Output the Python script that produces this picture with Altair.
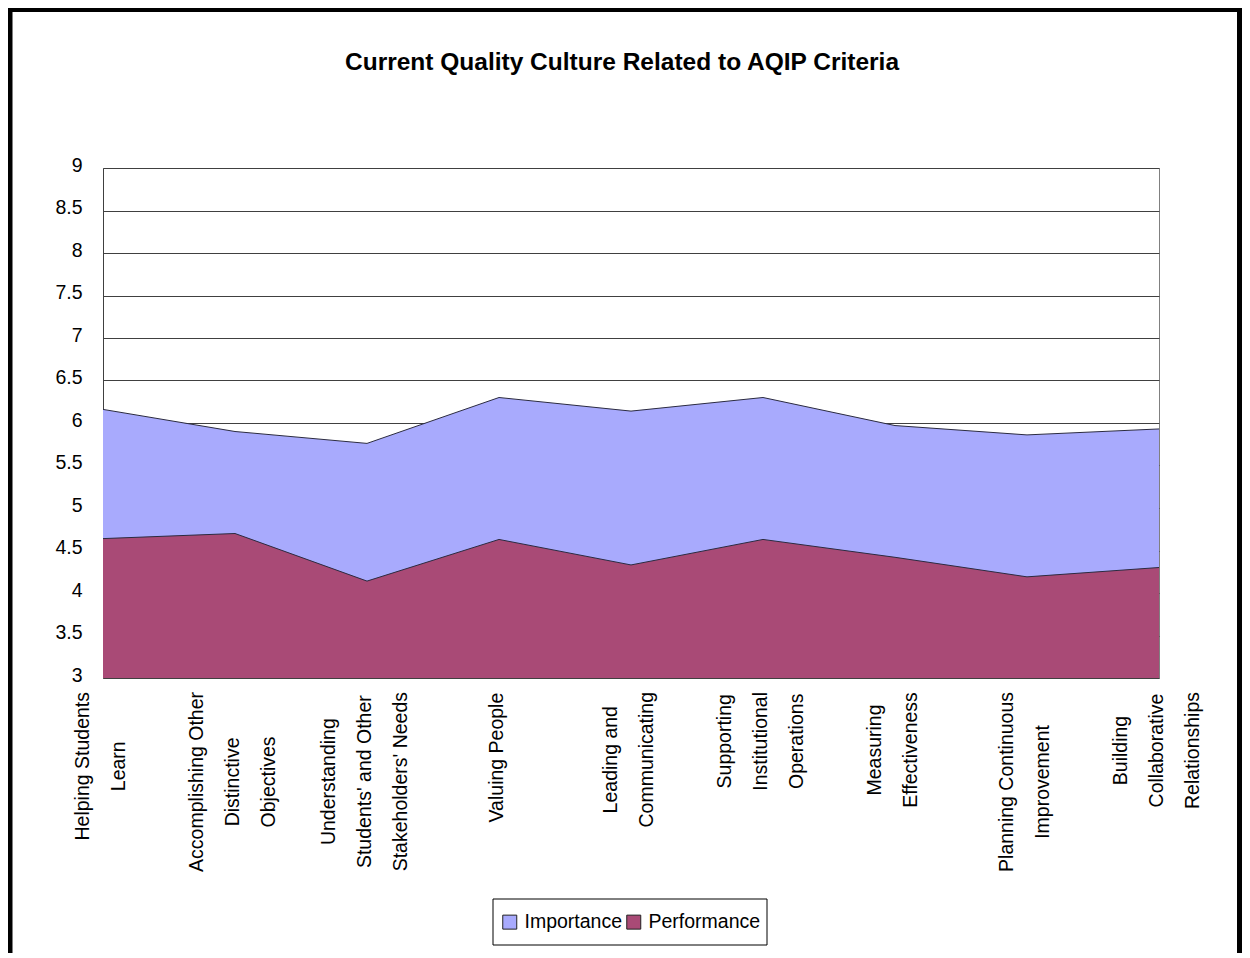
import altair as alt
import pandas as pd

# ---- data ----
categories = [
    "Helping Students|Learn",
    "Accomplishing Other|Distinctive|Objectives",
    "Understanding|Students' and Other|Stakeholders' Needs",
    "Valuing People",
    "Leading and|Communicating",
    "Supporting|Institutional|Operations",
    "Measuring|Effectiveness",
    "Planning Continuous|Improvement",
    "Building|Collaborative|Relationships",
]
importance = [6.16, 5.90, 5.76, 6.30, 6.14, 6.30, 5.97, 5.86, 5.93]
performance = [4.64, 4.70, 4.14, 4.63, 4.33, 4.63, 4.42, 4.19, 4.30]
series_names = ["Importance", "Performance"]
y_ticks = [3, 3.5, 4, 4.5, 5, 5.5, 6, 6.5, 7, 7.5, 8, 8.5, 9]
title_text = "Current Quality Culture Related to AQIP Criteria"

# ---- styling ----
FONT = "Liberation Sans"
FS = 19.5
BLUE = "#A8AAFD"
MAROON = "#A94A76"
W, H = 1056, 510
PAD = {"left": 95, "top": 160, "right": 83, "bottom": 275}

rows = []
for c, i, p in zip(categories, importance, performance):
    rows.append({"category": c, "series": "Importance", "value": i})
    rows.append({"category": c, "series": "Performance", "value": p})
df = pd.DataFrame(rows)

xenc = alt.X("category:N", scale=alt.Scale(type="point", padding=0, domain=categories), axis=None)
yscale = alt.Scale(domain=[3, 9], zero=False, nice=False)
yenc = alt.Y("value:Q", scale=yscale, title=None,
             axis=alt.Axis(values=y_ticks, format="~g"))
color = alt.Color(
    "series:N",
    scale=alt.Scale(domain=series_names, range=[BLUE, MAROON]),
    legend=alt.Legend(
        orient="none", legendX=397, legendY=744, direction="horizontal", title=None,
        padding=0, symbolType="square",
        symbolSize=196, symbolStrokeColor="#222222", symbolStrokeWidth=1, symbolOpacity=1,
        labelFont=FONT, labelFontSize=FS, labelColor="black", labelOffset=5, columnPadding=1,
    ),
)

base = alt.Chart(df)
imp_area = base.transform_filter(alt.datum.series == "Importance").mark_area(opacity=1).encode(
    x=xenc, y=yenc, y2=alt.datum(3), color=color)
perf_area = base.transform_filter(alt.datum.series == "Performance").mark_area(opacity=1).encode(
    x=xenc, y=yenc, y2=alt.datum(3), color=color)
lines = base.mark_line(color="#2b2b40", strokeWidth=1).encode(x=xenc, y=yenc, detail="series:N")

# Arial / Liberation Sans advance widths (per 1000 em) to centre multi-line labels
AW = {" ": 278, "'": 191, "A": 667, "B": 667, "C": 722, "D": 722, "E": 667, "H": 722, "I": 278,
      "L": 556, "M": 833, "N": 722, "O": 778, "P": 667, "R": 722, "S": 667, "U": 722, "V": 667,
      "a": 556, "b": 556, "c": 500, "d": 556, "e": 556, "f": 278, "g": 556, "h": 556, "i": 222,
      "j": 222, "k": 500, "l": 222, "m": 833, "n": 556, "o": 556, "p": 556, "r": 333, "s": 500,
      "t": 278, "u": 556, "v": 500, "y": 500}
LINE_H = 36

def line_width(s):
    return sum(AW.get(ch, 556) for ch in s) / 1000 * FS

label_layers = []
for c in categories:
    parts = c.split("|")
    wmax = max(line_width(s) for s in parts)
    off = 14 + wmax / 2
    shift = -(len(parts) - 1) * LINE_H / 2 - 2
    lab = alt.Chart(pd.DataFrame({"category": [c]})).mark_text(
        angle=270, align="center", baseline="middle", lineBreak="|", lineHeight=LINE_H,
        font=FONT, fontSize=FS, color="black", dx=-off, dy=shift,
    ).encode(x=xenc, y=alt.datum(3, type="quantitative", scale=yscale), text="category:N")
    label_layers.append(lab)

one = pd.DataFrame({"k": [0]})
# legend frame box
legend_box = alt.Chart(one).mark_rect(fill="white", stroke="black", strokeWidth=1).encode(
    x=alt.value(390), x2=alt.value(664), y=alt.value(731), y2=alt.value(777))
# outer chart frame
frame_left = alt.Chart(one).mark_rule(color="black", strokeWidth=5).encode(
    x=alt.value(-93), y=alt.value(-161), y2=alt.value(900))
frame_top = alt.Chart(one).mark_rule(color="black", strokeWidth=5).encode(
    x=alt.value(-96), x2=alt.value(1140), y=alt.value(-158.5))
frame_right = alt.Chart(one).mark_rule(color="black", strokeWidth=5).encode(
    x=alt.value(1136.5), y=alt.value(-161), y2=alt.value(900))

chart = alt.layer(
    imp_area, perf_area, lines, *label_layers, legend_box, frame_left, frame_top, frame_right
).properties(
    width=W, height=H,
    autosize=alt.AutoSizeParams(type="none"),
    padding=PAD,
    title=alt.TitleParams(title_text, font=FONT, fontSize=24.5, fontWeight="bold", color="black",
                          anchor="middle", offset=-71, dx=-9),
).configure_view(stroke="#808080", strokeWidth=1).configure_axisY(
    ticks=False, labelPadding=21, labelOffset=-3, labelFont=FONT, labelFontSize=FS,
    labelColor="black", grid=True, gridColor="#404040", gridWidth=1,
    domainColor="#404040", title=None,
)

chart.save("out.html", embed_options={"renderer": "svg", "actions": False})
